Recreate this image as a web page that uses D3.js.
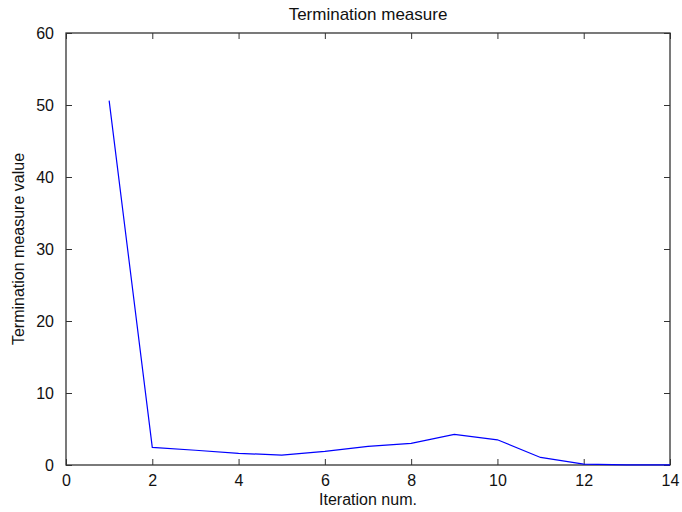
<!doctype html>
<html lang="en">
<head>
  <style>
    body { margin: 0; background: #fff; }
    text { font-family: "Liberation Sans", Arial, sans-serif; fill: #111; }
    .tick text { font-size: 16px; }
    .label { font-size: 16px; }
  </style>
  <script src="https://d3js.org/d3.v7.min.js"></script>
</head>
<body>
  <script>
    const iterations = [1, 2, 3, 4, 5, 6, 7, 8, 9, 10, 11, 12, 13, 14];
    const measureValues = [50.6, 2.45, 2.05, 1.62, 1.38, 1.88, 2.6, 3.0, 4.25, 3.5, 1.05, 0.12, 0.03, 0.03];
    const xTicks = [0, 2, 4, 6, 8, 10, 12, 14];
    const yTicks = [0, 10, 20, 30, 40, 50, 60];

    const data = iterations.map((it, i) => ({ x: it, y: measureValues[i] }));

    const W = 682, H = 512;
    const margin = { top: 33, right: 12, bottom: 47, left: 66 };
    const width = W - margin.left - margin.right;
    const height = H - margin.top - margin.bottom;

    const svg = d3.select("body")
      .append("svg")
      .attr("width", W)
      .attr("height", H);

    const g = svg.append("g")
      .attr("transform", `translate(${margin.left},${margin.top})`);

    const x = d3.scaleLinear().domain([0, 14]).range([0, width]);
    const y = d3.scaleLinear().domain([0, 60]).range([height, 0]);

    // box with inward ticks on all sides (matlab style)
    const axisColor = "#333";
    function styleAxis(sel) {
      sel.select(".domain").remove();
      sel.selectAll(".tick line").attr("stroke", axisColor);
    }

    g.append("g")
      .attr("transform", `translate(0,${height})`)
      .call(d3.axisBottom(x).tickValues(xTicks).tickSizeInner(-6).tickSizeOuter(0).tickPadding(10))
      .call(styleAxis);

    g.append("g")
      .call(d3.axisTop(x).tickValues(xTicks).tickSizeInner(-6).tickSizeOuter(0).tickFormat(""))
      .call(styleAxis);

    g.append("g")
      .call(d3.axisLeft(y).tickValues(yTicks).tickSizeInner(-6).tickSizeOuter(0).tickPadding(12))
      .call(styleAxis);

    g.append("g")
      .attr("transform", `translate(${width},0)`)
      .call(d3.axisRight(y).tickValues(yTicks).tickSizeInner(-6).tickSizeOuter(0).tickFormat(""))
      .call(styleAxis);

    g.selectAll(".tick text").attr("fill", "#111").attr("font-size", 16);

    g.append("rect")
      .attr("x", 0).attr("y", 0)
      .attr("width", width).attr("height", height)
      .attr("fill", "none")
      .attr("stroke", axisColor)
      .attr("stroke-width", 1.3);

    const line = d3.line()
      .x(d => x(d.x))
      .y(d => y(d.y));

    g.append("path")
      .datum(data)
      .attr("fill", "none")
      .attr("stroke", "#0000ff")
      .attr("stroke-width", 1.2)
      .attr("d", line);

    // title and axis labels
    svg.append("text")
      .attr("class", "label")
      .attr("x", margin.left + width / 2)
      .attr("y", 20)
      .attr("text-anchor", "middle")
      .style("font-size", "17px")
      .text("Termination measure");

    svg.append("text")
      .attr("class", "label")
      .attr("x", margin.left + width / 2)
      .attr("y", 505)
      .attr("text-anchor", "middle")
      .text("Iteration num.");

    svg.append("text")
      .attr("class", "label")
      .attr("transform", `translate(24,${margin.top + height / 2}) rotate(-90)`)
      .attr("text-anchor", "middle")
      .text("Termination measure value");
  </script>
</body>
</html>
